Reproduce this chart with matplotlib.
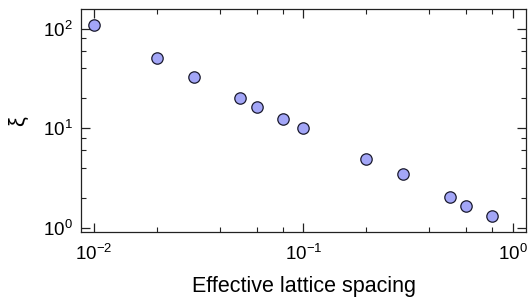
import matplotlib
matplotlib.use("Agg")
import matplotlib.pyplot as plt
from matplotlib.ticker import LogLocator, NullFormatter

plt.rcParams["font.family"] = ["Liberation Sans", "DejaVu Sans"]
plt.rcParams["mathtext.fontset"] = "custom"
plt.rcParams["mathtext.rm"] = "Liberation Sans"
plt.rcParams["mathtext.it"] = "Liberation Sans:italic"

# data
spacing = [0.01, 0.02, 0.03, 0.05, 0.06, 0.08, 0.1, 0.2, 0.3, 0.5, 0.6, 0.8]
xi = [110, 51, 33, 20, 16.3, 12.5, 10.0, 4.93, 3.49, 2.05, 1.65, 1.32]

fig = plt.figure(figsize=(5.3, 2.99), dpi=100)
ax = fig.add_axes([81 / 530, 1 - 232.3 / 299, 445 / 530, 223.3 / 299])

ax.scatter(spacing, xi, s=8.2 ** 2, c="#a3a6f7", edgecolors="#1a1a2e",
           linewidths=0.9, zorder=3)

ax.set_xscale("log")
ax.set_yscale("log")
ax.set_xlim(0.00867, 1.16)
ax.set_ylim(0.905, 158)

for axis in (ax.xaxis, ax.yaxis):
    axis.set_major_locator(LogLocator(base=10, numticks=10))
    axis.set_minor_locator(LogLocator(base=10, subs=(2, 4, 6, 8), numticks=10))
    axis.set_minor_formatter(NullFormatter())

ax.tick_params(which="both", direction="in", top=True, right=True,
               labelsize=13.5, color="#222222")
ax.tick_params(which="major", length=6.5, width=0.9)
ax.tick_params(which="minor", length=3.6, width=0.8)
ax.tick_params(axis="x", which="major", pad=8)
ax.tick_params(axis="y", which="major", pad=6)
for sp in ax.spines.values():
    sp.set_linewidth(0.9)
    sp.set_color("#222222")

ax.set_xlabel("Effective lattice spacing", fontsize=15.5, labelpad=9)
ax.set_ylabel("ξ", fontsize=16, labelpad=10)

fig.savefig("out.png", dpi=100)
